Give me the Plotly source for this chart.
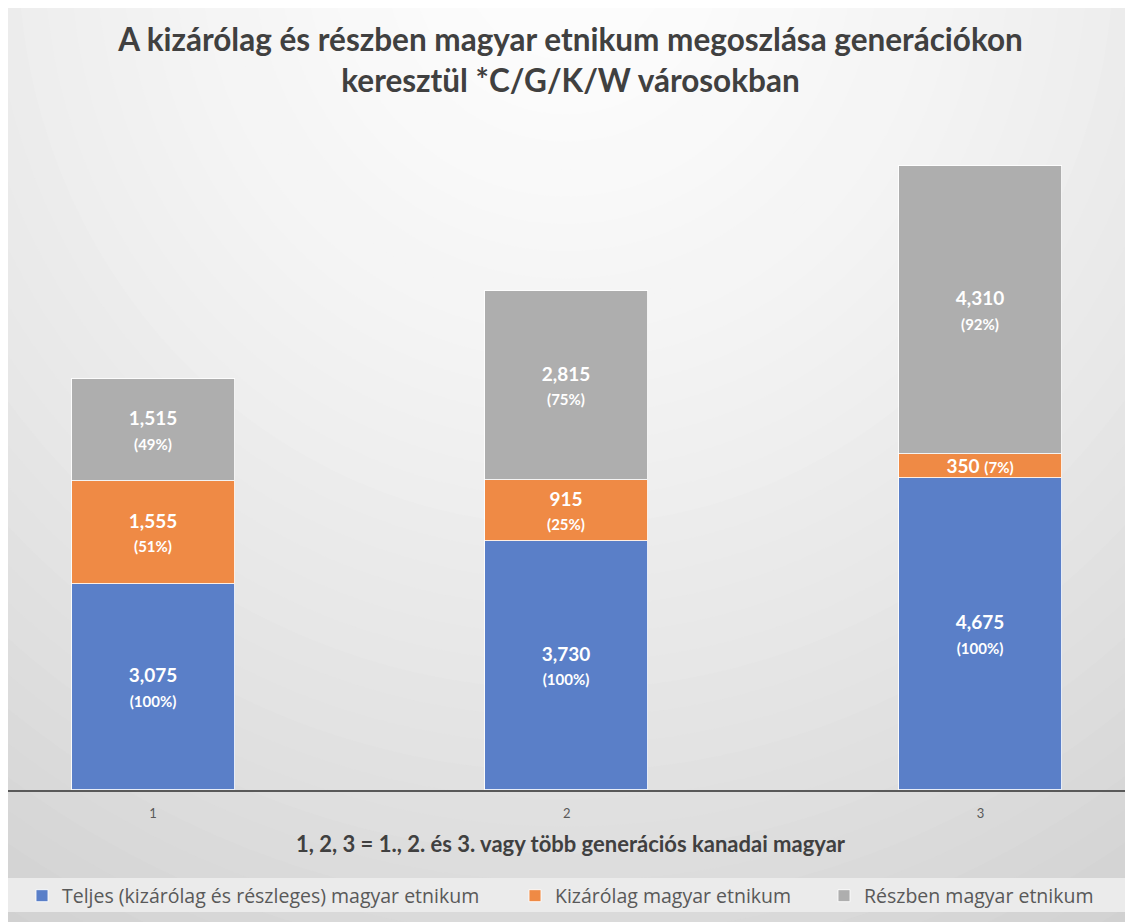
import plotly.graph_objects as go

# ---------------- data ----------------
categories = ["1", "2", "3"]
series_names = [
    "Teljes (kizárólag és részleges) magyar etnikum",
    "Kizárólag magyar etnikum",
    "Részben magyar etnikum",
]
total_values = [3075, 3730, 4675]      # Teljes (kizárólag és részleges)
exclusive_values = [1555, 915, 350]    # Kizárólag
partial_values = [1515, 2815, 4310]    # Részben

title_text = ("A kizárólag és részben magyar etnikum megoszlása generációkon"
              "<br>keresztül *C/G/K/W városokban")
xaxis_title = "1, 2, 3 = 1., 2. és 3. vagy több generációs kanadai magyar"

# ---------------- styles ----------------
OFF = 8                       # page body margin of the html page
W, H = 1133 - OFF, 922 - OFF  # figure size
# plot area in reference-screen pixels
PL, PR, PT, PB = 8, 1133, 130, 790
colors = ["#5a7fc8", "#ef8a45", "#aeaeae"]


def px_x(px):
    return (px - PL) / (PR - PL)


def px_y(py):
    return (PB - py) / (PB - PT)


def labels(values, base):
    out = []
    for v, b in zip(values, base):
        pct = round(v / b * 100)
        if v < 500:
            out.append(f"<b>{v:,}</b> <span style='font-size:15px'><b>({pct}%)</b></span>")
        else:
            out.append(f"<b>{v:,}</b><br><span style='font-size:15px'><b>({pct}%)</b></span>")
    return out


fig = go.Figure()
series = [total_values, exclusive_values, partial_values]
legends = ["legend", "legend2", "legend3"]
for name, vals, col, lg in zip(series_names, series, colors, legends):
    fig.add_trace(go.Bar(
        x=categories, y=vals, name=name, legend=lg, showlegend=True,
        marker=dict(color=col, line=dict(color="rgba(255,255,255,0.85)", width=1)),
        width=0.394,
        text=labels(vals, total_values),
        textposition="inside", insidetextanchor="middle", textangle=0,
        textfont=dict(family="Lato", size=19, color="#ffffff"),
        hoverinfo="skip",
    ))

# background: radial gradient approximated with concentric ellipses
shapes = []
N = 46
cx, cy = 566, -50
for i in range(N, 0, -1):
    t = 1.2 * i / N
    rx, ry = 1000 * t, 1050 * t
    c = int(round(max(200, 253 - 38 * t ** 1.5)))
    shapes.append(dict(type="circle", xref="paper", yref="paper", layer="below",
                       x0=px_x(cx - rx), x1=px_x(cx + rx),
                       y0=px_y(cy + ry), y1=px_y(cy - ry),
                       line=dict(width=0), fillcolor=f"rgb({c},{c},{c})"))
# legend band
shapes.append(dict(type="rect", xref="paper", yref="paper", layer="below",
                   x0=px_x(0), x1=px_x(1140), y0=px_y(912), y1=px_y(878),
                   line=dict(width=0), fillcolor="#ebebeb"))

legend_common = dict(orientation="h", yanchor="middle", y=px_y(896), xanchor="left",
                     bgcolor="rgba(0,0,0,0)", borderwidth=0,
                     font=dict(family="Open Sans", size=19.5, color="#595959"))

fig.update_layout(
    width=W, height=H,
    margin=dict(l=PL - OFF, r=1133 - PR, t=PT - OFF, b=H - (PB - OFF), pad=0),
    paper_bgcolor="rgb(202,202,202)",
    plot_bgcolor="rgba(0,0,0,0)",
    barmode="stack",
    bargap=0,
    showlegend=True,
    shapes=shapes,
    title=dict(text=title_text, x=0.5, xref="paper", xanchor="center",
               y=1 - 43 / H, yref="container", yanchor="middle",
               font=dict(family="Lato", size=31.5, color="#404040", weight="bold")),
    legend=dict(**legend_common, x=px_x(22)),
    legend2=dict(**legend_common, x=px_x(515)),
    legend3=dict(**legend_common, x=px_x(824)),
    uniformtext=dict(minsize=19, mode="show"),
    xaxis=dict(type="category", categoryorder="array", categoryarray=categories,
               range=[-0.3505, 2.3686], showgrid=False, zeroline=False,
               showline=True, linecolor="#595959", linewidth=2,
               ticks="", ticklabelstandoff=10,
               tickfont=dict(family="Lato", size=13, color="#595959"),
               title=dict(text=xaxis_title, standoff=17,
                          font=dict(family="Lato", size=22, color="#404040", weight="bold"))),
    yaxis=dict(range=[0, 9875], visible=False, showgrid=False, zeroline=False),
)

fig.write_html("out.html")
